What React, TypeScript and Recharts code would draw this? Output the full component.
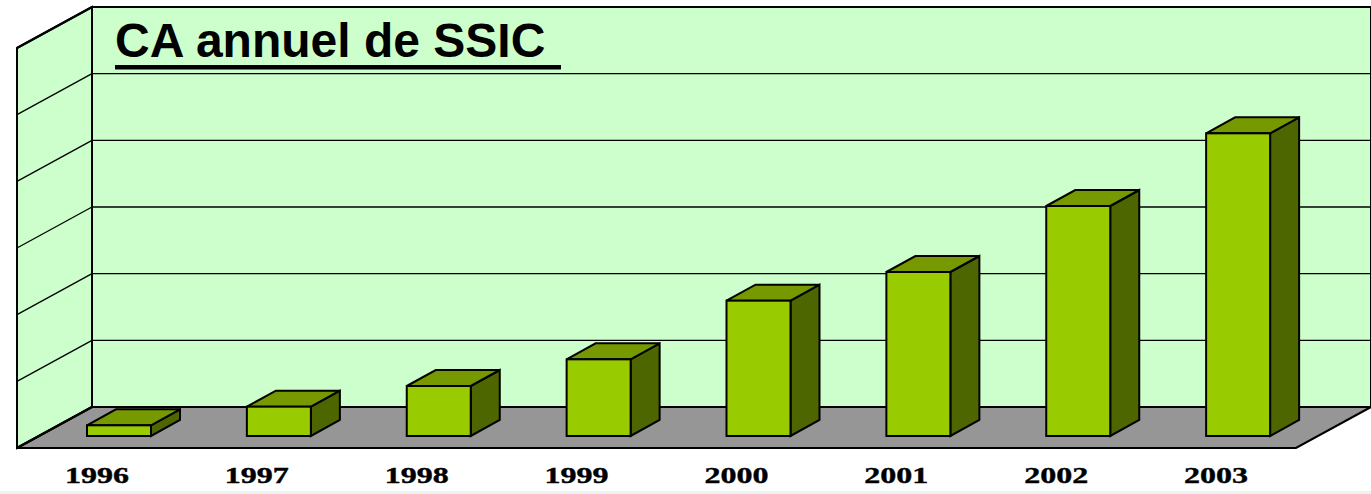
import React from 'react';
import { BarChart, Bar, XAxis, YAxis, CartesianGrid } from 'recharts';

// --- data ---
const years = ['1996', '1997', '1998', '1999', '2000', '2001', '2002', '2003'];
const revenue = [16, 44, 75, 115, 203, 246, 345, 454];
const valueTicks = [0, 100, 200, 300, 400, 500, 600];

const data = years.map((year, i) => ({ year, revenue: revenue[i] }));

// --- layout (front plane of the bars is the recharts plot area) ---
const W = 1371;
const H = 494;
const PLOT_LEFT = 39;
const PLOT_RIGHT = 1318;
const PLOT_TOP = 36;
const PLOT_BOTTOM = 436;
const AXIS_H = 30;

// offsets from the bar front plane
const BACK = { dx: 53, dy: -29 }; // to the back wall
const FRONT = { dx: -22, dy: 12 }; // to the front edge of the floor
const BAR_DEPTH = { dx: 29, dy: -16 };

const WALL = '#CCFFCC';
const FLOOR = '#969696';
const BAR_FRONT = '#99CC00';
const BAR_TOP = '#779900';
const BAR_SIDE = '#4D6600';

function Bar3D(props: any) {
    const { x, y, width, height } = props;
    if (width == null || height == null) return null;
    const { dx, dy } = BAR_DEPTH;
    const top = `${x},${y} ${x + dx},${y + dy} ${x + width + dx},${y + dy} ${x + width},${y}`;
    const side = `${x + width},${y} ${x + width + dx},${y + dy} ${x + width + dx},${y + height + dy} ${x + width},${y + height}`;
    return (
        <g stroke="#000" strokeWidth={2} strokeLinejoin="miter">
            <polygon points={side} fill={BAR_SIDE} />
            <polygon points={top} fill={BAR_TOP} />
            <rect x={x} y={y} width={width} height={height} fill={BAR_FRONT} />
        </g>
    );
}

// gridline on the back wall + matching diagonal on the side wall
function WallLine(props: any) {
    const { x1, x2, y1, key, index } = props;
    const edge = index === 0 || index === valueTicks.length - 1;
    return (
        <g key={key} stroke="#000" strokeWidth={edge ? 2 : 1.3}>
            <line x1={x1 + BACK.dx} y1={y1 + BACK.dy} x2={x2 + BACK.dx} y2={y1 + BACK.dy} />
            <line x1={x1 + FRONT.dx} y1={y1 + FRONT.dy} x2={x1 + BACK.dx} y2={y1 + BACK.dy} />
        </g>
    );
}

function YearTick(props: any) {
    const { x, payload } = props;
    return (
        <text
            x={x + FRONT.dx}
            y={483}
            textAnchor="middle"
            fontFamily="'Liberation Serif', 'Times New Roman', serif"
            fontWeight="bold"
            fontSize={24}
            textLength={64}
            lengthAdjust="spacingAndGlyphs"
            stroke="#000"
            strokeWidth={0.4}
            fill="#000"
        >
            {payload.value}
        </text>
    );
}

function Backdrop() {
    const bl = { x: PLOT_LEFT + BACK.dx, y: PLOT_BOTTOM + BACK.dy };
    const tl = { x: PLOT_LEFT + BACK.dx, y: PLOT_TOP + BACK.dy };
    const br = { x: PLOT_RIGHT + BACK.dx, y: PLOT_BOTTOM + BACK.dy };
    const fl = { x: PLOT_LEFT + FRONT.dx, y: PLOT_BOTTOM + FRONT.dy };
    const ftl = { x: PLOT_LEFT + FRONT.dx, y: PLOT_TOP + FRONT.dy };
    const fr = { x: PLOT_RIGHT + FRONT.dx, y: PLOT_BOTTOM + FRONT.dy };
    return (
        <svg width={W} height={H} style={{ position: 'absolute', left: 0, top: 0 }}>
            <rect x={0} y={H - 3} width={W} height={3} fill="#EEF2F2" />
            <rect x={tl.x} y={tl.y} width={br.x - tl.x} height={bl.y - tl.y} fill={WALL} stroke="#000" strokeWidth={2} />
            <polygon
                points={`${ftl.x},${ftl.y} ${tl.x},${tl.y} ${bl.x},${bl.y} ${fl.x},${fl.y}`}
                fill={WALL}
                stroke="#000"
                strokeWidth={2}
            />
            <polygon
                points={`${fl.x},${fl.y} ${bl.x},${bl.y} ${br.x},${br.y} ${fr.x},${fr.y}`}
                fill={FLOOR}
                stroke="#000"
                strokeWidth={2}
            />
            <text
                x={115}
                y={57}
                fontFamily="'Liberation Sans', Arial, sans-serif"
                fontWeight="bold"
                fontSize={48}
                fill="#000"
            >
                CA annuel de SSIC
            </text>
            <rect x={115} y={65} width={446} height={4.5} fill="#000" />
        </svg>
    );
}

export default function App() {
    return (
        <div style={{ position: 'absolute', left: 0, top: 0, width: W, height: H, background: '#fff' }}>
            <Backdrop />
            <div style={{ position: 'absolute', left: 0, top: 0 }}>
                <BarChart
                    width={W}
                    height={H}
                    data={data}
                    margin={{ top: PLOT_TOP, right: W - PLOT_RIGHT, bottom: H - PLOT_BOTTOM - AXIS_H, left: PLOT_LEFT }}
                    barCategoryGap={0}
                >
                    <CartesianGrid vertical={false} horizontal={WallLine} />
                    <XAxis
                        dataKey="year"
                        height={AXIS_H}
                        axisLine={false}
                        tickLine={false}
                        tick={YearTick}
                        interval={0}
                    />
                    <YAxis hide width={0} domain={[0, 600]} ticks={valueTicks} />
                    <Bar dataKey="revenue" barSize={64} shape={Bar3D} isAnimationActive={false} />
                </BarChart>
            </div>
        </div>
    );
}
